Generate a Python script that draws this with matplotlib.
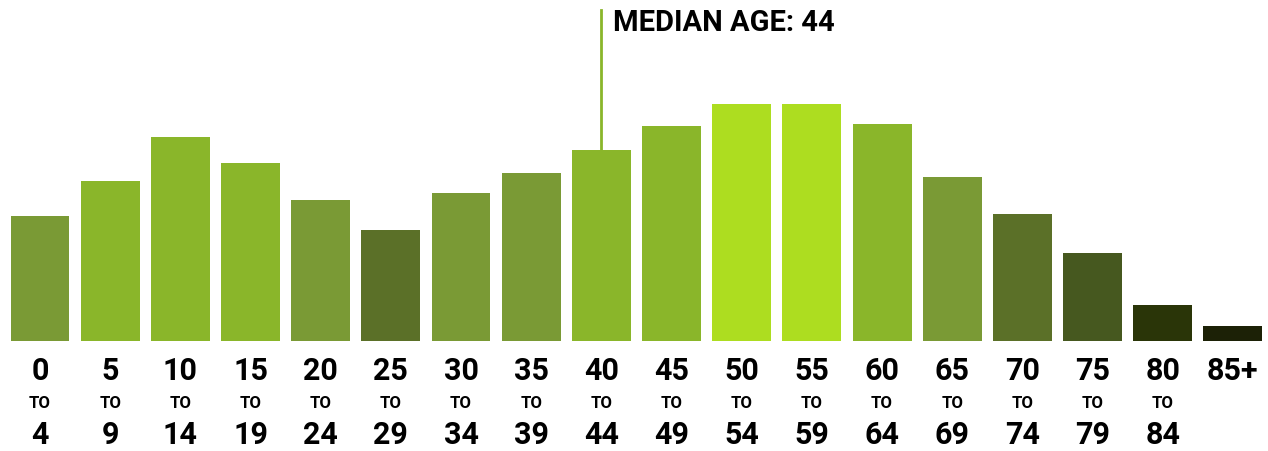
import matplotlib.pyplot as plt
from matplotlib import font_manager

# age groups and bar heights (relative units)
starts = ["0", "5", "10", "15", "20", "25", "30", "35", "40", "45",
          "50", "55", "60", "65", "70", "75", "80", "85+"]
ends = ["4", "9", "14", "19", "24", "29", "34", "39", "44", "49",
        "54", "59", "64", "69", "74", "79", "84", ""]
values = [125, 160, 204, 178, 141, 111, 148, 168, 191, 215,
          237, 237, 217, 164, 127, 88, 36, 15]
colors = ["#7a9a35", "#8ab62a", "#8ab62a", "#8ab62a", "#7a9a35", "#5b7028",
          "#7a9a35", "#7a9a35", "#8ab62a", "#8ab62a", "#addd20", "#addd20",
          "#8ab62a", "#7a9a35", "#5b7028", "#46581f", "#2a3508", "#1c2106"]
median_idx = 8
median_label = "MEDIAN AGE: 44"

names = {f.name for f in font_manager.fontManager.ttflist}
font = "Liberation Sans Narrow" if "Liberation Sans Narrow" in names else "Roboto"
plt.rcParams["font.family"] = [font, "DejaVu Sans"]

fig = plt.figure(figsize=(12.68, 4.51), dpi=100)
ax = fig.add_axes([0, 1 - 341 / 451, 1, 341 / 451])
x = list(range(len(values)))
ax.bar(x, values, width=0.84, color=colors)
ax.set_xlim(-0.57, 17.5)
ax.set_ylim(0, 341)
ax.axis("off")

# median marker
ax.plot([median_idx, median_idx], [values[median_idx], 331], color="#8ab62a", lw=2)
ax.text(median_idx + 0.17, 318, median_label, fontsize=21, fontweight="bold",
        va="center", ha="left", color="black")

for i in x:
    ax.text(i, -30, starts[i], ha="center", va="center", fontsize=22,
            fontweight="bold", clip_on=False)
    if ends[i]:
        ax.text(i, -62, "TO", ha="center", va="center", fontsize=12,
                fontweight="bold", clip_on=False)
        ax.text(i, -94, ends[i], ha="center", va="center", fontsize=22,
                fontweight="bold", clip_on=False)

fig.savefig("out.png", dpi=100)
